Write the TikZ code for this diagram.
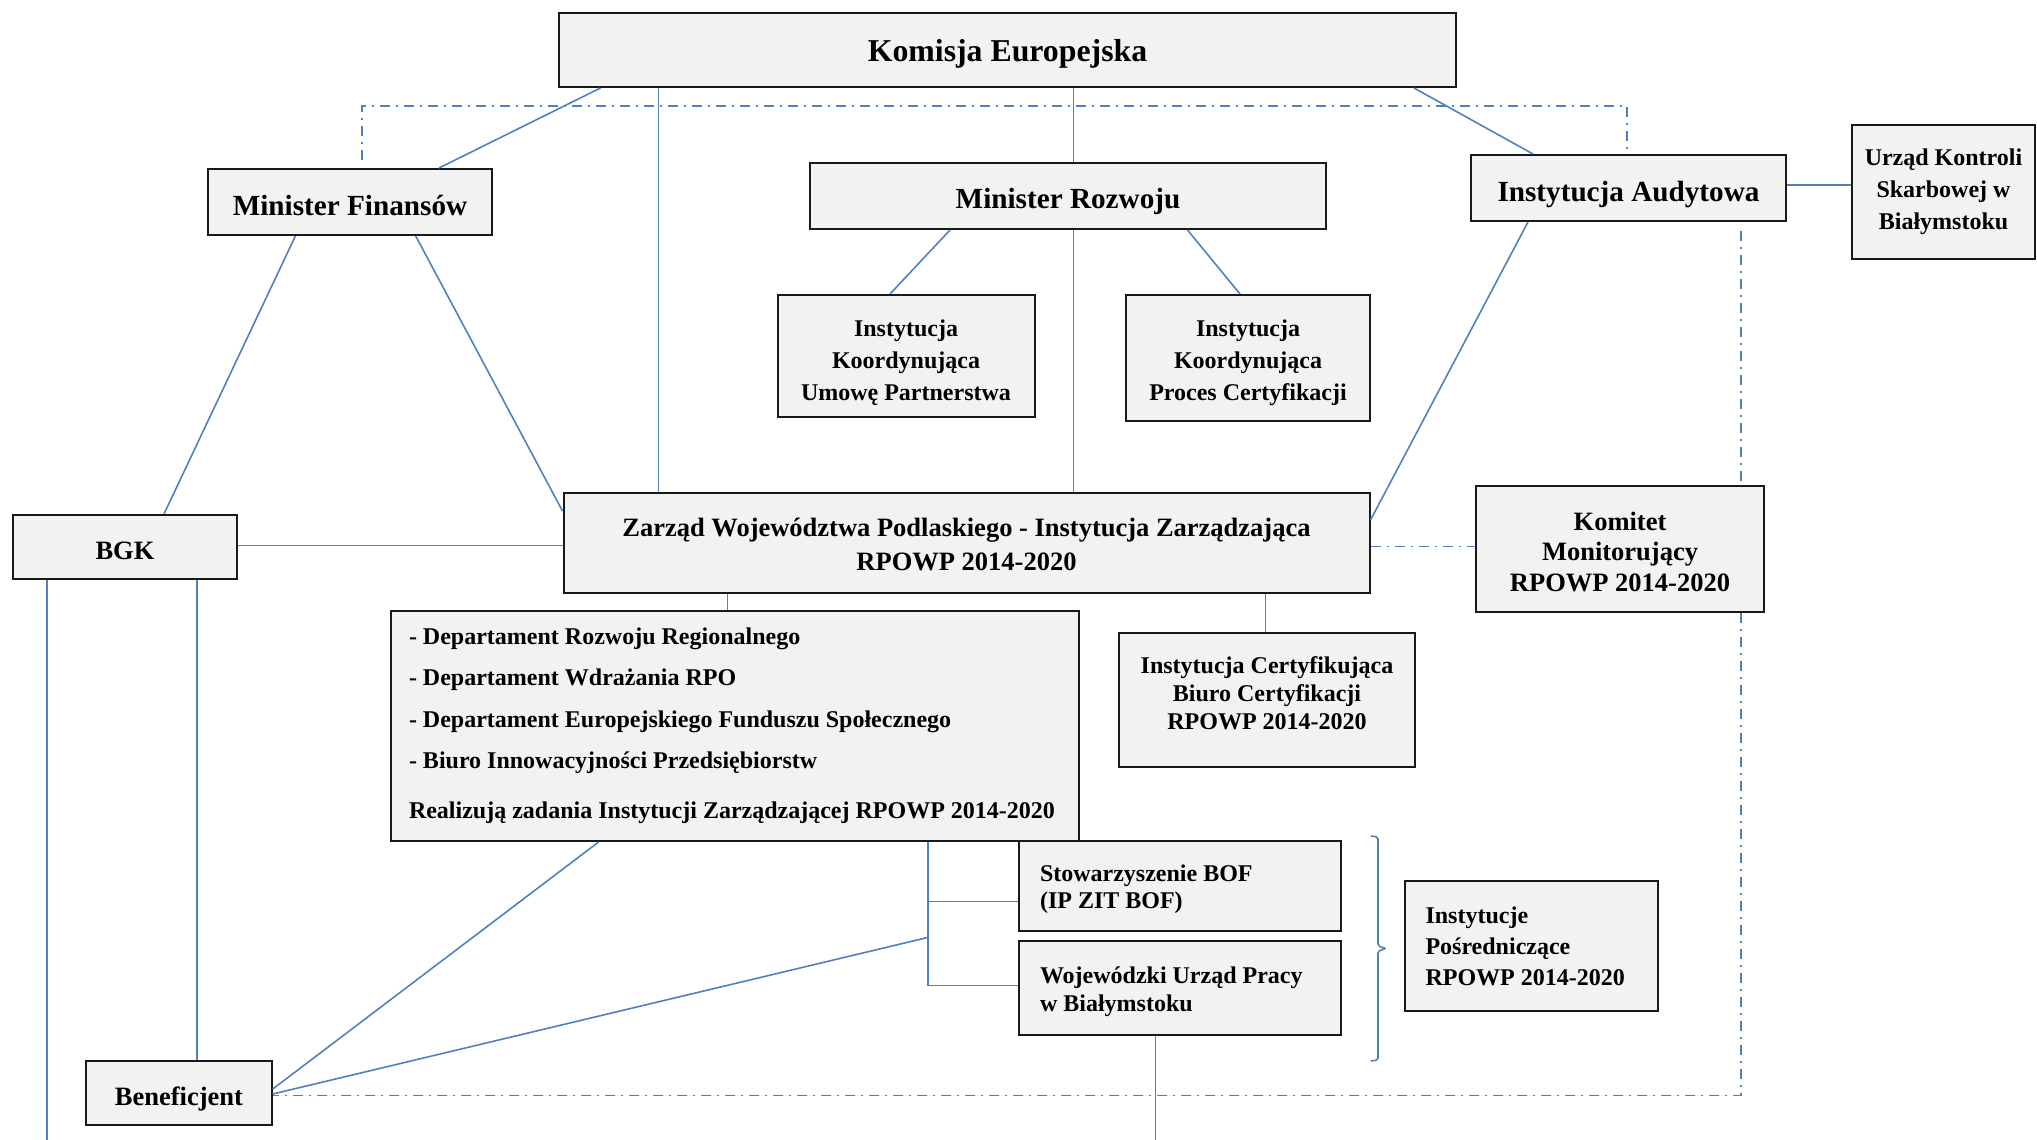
\documentclass[tikz,border=0pt]{standalone}
\usepackage{fontspec}
\setmainfont{Liberation Serif}
\definecolor{linia}{HTML}{4F81BD}
\definecolor{tlo}{HTML}{F2F2F2}

\begin{document}
\begin{tikzpicture}[x=1pt, y=-1pt]
    \tikzstyle{box}=[draw=black!90, line width=2pt, fill=tlo, align=flush center, inner sep=0pt, execute at begin node={\spaceskip=0pt\xspaceskip=0pt}]
    \tikzstyle{lo}=[text height=#1, text depth=0pt]
    \tikzstyle{hi}=[text height=0pt, text depth=#1]
    \tikzstyle{link}=[draw=linia, line width=1.6pt]
    \tikzstyle{dashdot}=[draw=linia, line width=1.6pt, dash pattern=on 10pt off 6pt on 2pt off 6pt]
    \useasboundingbox (0,0) rectangle (2037,1140);
    \node[box, lo=23pt, minimum width=897pt, minimum height=74pt, font=\bfseries\fontsize{31.8}{38}\selectfont] (ke) at (1007.5,50) {Komisja Europejska};
    \node[box, lo=26pt, minimum width=284pt, minimum height=66pt, font=\bfseries\fontsize{29.2}{35}\selectfont] (mf) at (350,202) {Minister Finansów};
    \node[box, lo=25pt, minimum width=516pt, minimum height=66pt, font=\bfseries\fontsize{29.2}{35}\selectfont] (mr) at (1068,196) {Minister Rozwoju};
    \node[box, lo=26pt, minimum width=315pt, minimum height=66pt, font=\bfseries\fontsize{29.2}{35}\selectfont] (ia) at (1628.5,188) {Instytucja Audytowa};
    \node[box, hi=52.6pt, minimum width=183pt, minimum height=134pt, text width=175pt, font=\bfseries\fontsize{24}{32}\selectfont] (uks) at (1943.5,192) {Urząd Kontroli\\Skarbowej w\\Białymstoku};
    \node[box, hi=38.4pt, minimum width=257pt, minimum height=122pt, text width=245pt, font=\bfseries\fontsize{24}{32}\selectfont] (ikup) at (906,356) {Instytucja\\Koordynująca\\Umowę Partnerstwa};
    \node[box, hi=42.4pt, minimum width=244pt, minimum height=126pt, text width=234pt, font=\bfseries\fontsize{24}{32}\selectfont] (ikpc) at (1248,358) {Instytucja\\Koordynująca\\Proces Certyfikacji};
    \node[box, hi=12.6pt, minimum width=806pt, minimum height=100pt, text width=790pt, font=\bfseries\fontsize{26.5}{34}\selectfont] (zwp) at (966.5,543) {Zarząd Województwa Podlaskiego - Instytucja Zarządzająca\\RPOWP 2014-2020};
    \node[box, lo=25pt, minimum width=224.5pt, minimum height=64pt, font=\bfseries\fontsize{26.5}{32}\selectfont] (bgk) at (125,547) {BGK};
    \node[box, hi=38pt, minimum width=288pt, minimum height=126pt, text width=278pt, font=\bfseries\fontsize{26.5}{30.6}\selectfont] (km) at (1620,549) {Komitet\\Monitorujący\\RPOWP 2014-2020};
    \node[box, hi=163.2pt, minimum width=688.5pt, minimum height=230pt, inner xsep=18.25pt, text width=652pt, align=flush left, font=\bfseries\fontsize{24}{41.4}\selectfont] (dept) at (735,726) {- Departament Rozwoju Regionalnego\\- Departament Wdrażania RPO\\- Departament Europejskiego Funduszu Społecznego\\- Biuro Innowacyjności Przedsiębiorstw\\[8.6pt]Realizują zadania Instytucji Zarządzającej RPOWP 2014-2020};
    \node[box, hi=52.8pt, minimum width=296pt, minimum height=134pt, text width=286pt, font=\bfseries\fontsize{24}{27.9}\selectfont] (icb) at (1267,700) {Instytucja Certyfikująca\\Biuro Certyfikacji\\RPOWP 2014-2020};
    \node[box, hi=10pt, minimum width=322pt, minimum height=90pt, inner xsep=21pt, text width=280pt, align=flush left, font=\bfseries\fontsize{24}{27.5}\selectfont] (stow) at (1180,886) {Stowarzyszenie BOF\\(IP ZIT BOF)};
    \node[box, hi=8.8pt, minimum width=322pt, minimum height=94pt, inner xsep=21pt, text width=280pt, align=flush left, font=\bfseries\fontsize{24}{27.4}\selectfont] (wup) at (1180,988) {Wojewódzki Urząd Pracy\\w Białymstoku};
    \node[box, hi=45.4pt, minimum width=253pt, minimum height=130pt, inner xsep=20.5pt, text width=212pt, align=flush left, font=\bfseries\fontsize{24}{31.1}\selectfont] (ipr) at (1531.5,946) {Instytucje\\Pośredniczące\\RPOWP 2014-2020};
    \node[box, lo=25.4pt, minimum width=185.5pt, minimum height=64pt, font=\bfseries\fontsize{26.5}{32}\selectfont] (ben) at (179,1093) {Beneficjent};
    \coordinate (kontrola) at (1627,106);
    \coordinate (rozw) at (928,937.4);
    \coordinate (narog) at (1741,1095.3);
    \coordinate (bgkdol) at (47,1140);
    \coordinate (wupdol) at (1155.6,1140);
    \draw[link] (ke.south -| 600.5,0) -- (mf.north -| 439,0);
    \draw[link] (ke.south -| 658.4,0) -- (zwp.north -| 658.4,0);
    \draw[link] (ke.south -| 1073.6,0) -- (mr.north -| 1073.6,0);
    \draw[link] (mr.south -| 1073.6,0) -- (zwp.north -| 1073.6,0);
    \draw[link] (ke.south -| 1414,0) -- (ia.north -| 1533,0);
    \draw[link] (ia.east |- 0,185) -- (uks.west |- 0,185);
    \draw[link] (mf.south -| 295.4,0) -- (bgk.north -| 164,0);
    \draw[link] (mf.south -| 415.7,0) -- (zwp.west |- 0,511);
    \draw[link] (mr.south -| 950,0) -- (ikup.north -| 890,0);
    \draw[link] (mr.south -| 1187.5,0) -- (ikpc.north -| 1240,0);
    \draw[link] (ia.south -| 1528,0) -- (zwp.east |- 0,520);
    \draw[link] (bgk.east |- 0,545.4) -- (zwp.west |- 0,545.4);
    \draw[link] (bgk.south -| bgkdol) -- (bgkdol);
    \draw[link] (bgk.south -| 197,0) -- (ben.north -| 197,0);
    \draw[link] (zwp.south -| 727.4,0) -- (dept.north -| 727.4,0);
    \draw[link] (zwp.south -| 1265.5,0) -- (icb.north -| 1265.5,0);
    \draw[link] (dept.south -| rozw) |- (wup.west |- 0,985.5);
    \draw[link] (rozw |- 0,901.5) -- (stow.west |- 0,901.5);
    \draw[link] (ben.east |- 0,1089) -- (dept.south -| 598.6,0);
    \draw[link] (ben.east |- 0,1094) -- (rozw);
    \draw[link] (wup.south -| wupdol) -- (wupdol);
    \draw[link, rounded corners=2pt] (1371,836) -- (1378,837) -- (1378,946) -- (1386,948.5) -- (1378,951) -- (1378,1060) -- (1371,1061);
    \draw[dashdot, shorten <=8pt] (mf.north -| 362,0) |- (kontrola) -- (ia.north -| kontrola);
    \draw[dashdot, shorten <=9pt] (ia.south -| narog) -- (km.north -| narog);
    \draw[dashdot] (zwp.east |- 0,546.5) -- (km.west |- 0,546.5);
    \draw[dashdot] (km.south -| narog) -- (narog) -- (ben.east |- narog);
\end{tikzpicture}
\end{document}
